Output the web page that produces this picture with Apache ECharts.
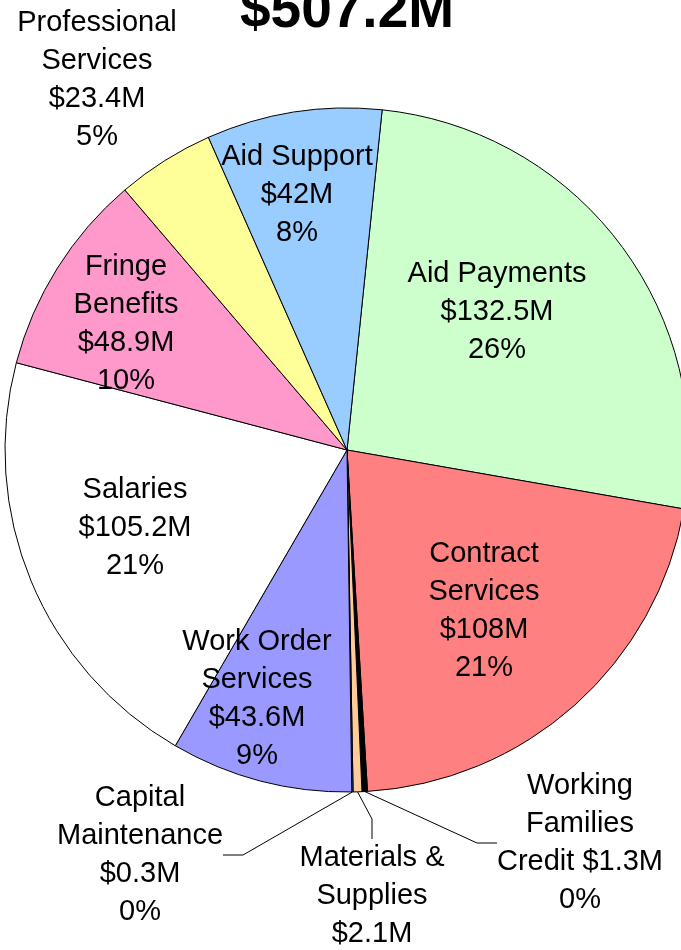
<!DOCTYPE html>
<html>
<head>
<meta charset="utf-8">
<script src="https://cdn.jsdelivr.net/npm/echarts@6/dist/echarts.min.js"></script>
<style>
  html, body { margin: 0; padding: 0; background: #fff; }
  #chart { width: 681px; height: 950px; }
</style>
</head>
<body>
<div id="chart"></div>
<script>
const chartTitle = '$507.2M'

// slices, clockwise from the top
const categories = [
  'Aid Payments', 'Contract\nServices', 'Working\nFamilies\nCredit', 'Materials &\nSupplies',
  'Capital\nMaintenance', 'Work Order\nServices', 'Salaries', 'Fringe\nBenefits',
  'Professional\nServices', 'Aid Support'
]
const amounts = [132.5, 108, 1.3, 2.1, 0.3, 43.6, 105.2, 48.9, 23.4, 42]
const colors = [
  '#CCFFCC', '#FF8080', '#000000', '#FFCC99', '#3366FF',
  '#9999FF', '#FFFFFF', '#FF99CC', '#FFFF99', '#99CCFF'
]
// labels that sit outside the pie with a leader line
const outsideLabels = ['Working\nFamilies\nCredit', 'Materials &\nSupplies', 'Capital\nMaintenance']

const FONT = "'Liberation Sans', Arial, sans-serif"

// where each label block is centred (px)
const labelSpots = [
  [497, 312], [484, 611], [580, 843], [372, 915], [140, 855],
  [257, 699], [135, 528], [126, 324], [97, 80], [297, 195]
]

const total = amounts.reduce((a, b) => a + b, 0)

const chart = echarts.init(document.getElementById('chart'), null, { renderer: 'canvas' })

const option = {
  backgroundColor: '#fff',
  animation: false,
  title: {
    text: chartTitle,
    left: 240,
    top: -16,
    padding: 0,
    textStyle: { fontFamily: FONT, fontSize: 55, fontWeight: 'bold', color: '#000' }
  },
  series: [
    {
      type: 'pie',
      center: [347, 450],
      radius: 342,
      startAngle: 84.1,
      clockwise: true,
      avoidLabelOverlap: false,
      minAngle: 0,
      itemStyle: { borderColor: '#000', borderWidth: 1 },
      emphasis: { disabled: true },
      label: {
        show: true,
        position: 'outside',
        fontFamily: FONT,
        fontSize: 29,
        lineHeight: 38,
        color: '#000',
        align: 'center',
        formatter: (p) => {
          const sep = p.name.endsWith('Credit') ? ' ' : '\n'
          const pct = Math.round((p.value / total) * 100)
          return p.name + sep + '$' + p.value + 'M\n' + pct + '%'
        }
      },
      labelLine: { show: false },
      labelLayout: (params) => {
        const s = labelSpots[params.dataIndex]
        return { x: s[0], y: s[1], align: 'center', verticalAlign: 'middle' }
      },
      data: categories.map((name, i) => ({
        name: name,
        value: amounts[i],
        itemStyle: { color: colors[i] },
        labelLine: outsideLabels.includes(name)
          ? { show: true, length: 20, length2: 20, lineStyle: { color: '#000', width: 1 } }
          : { show: false }
      }))
    }
  ]
}

chart.setOption(option)
</script>
</body>
</html>
